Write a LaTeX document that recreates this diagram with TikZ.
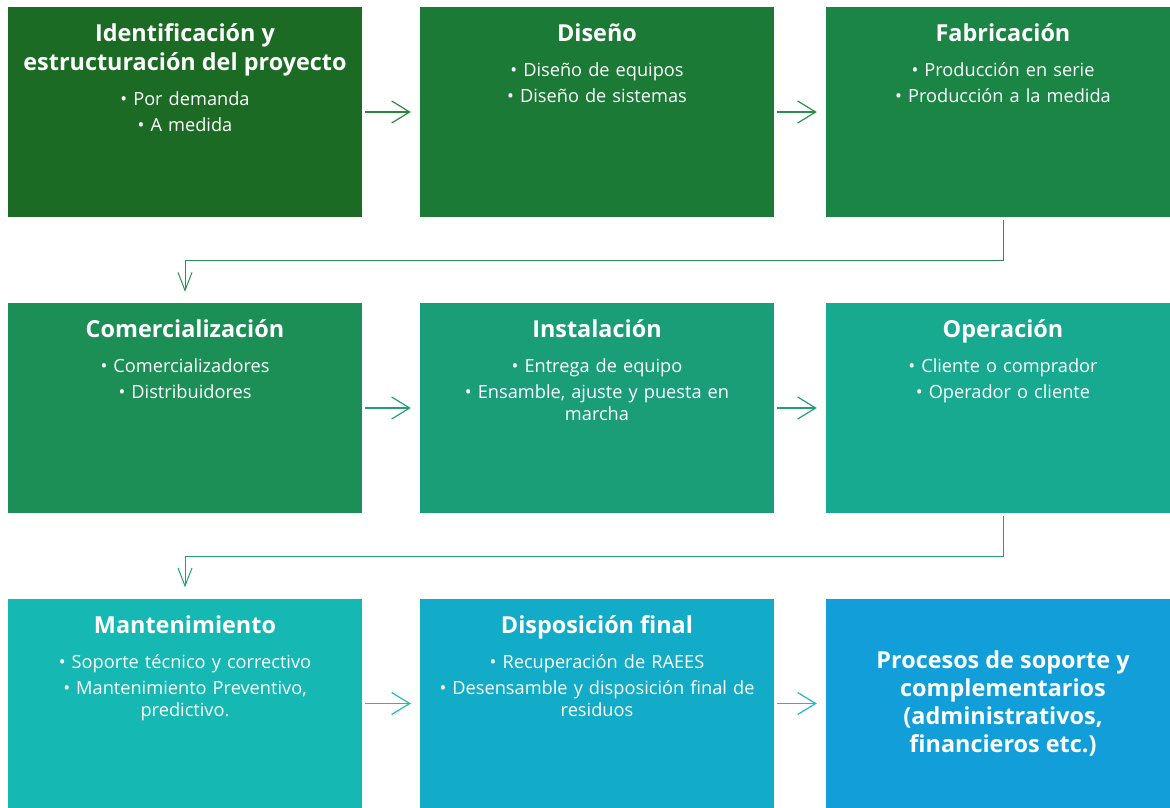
\documentclass[tikz,border=0pt]{standalone}
\usepackage{fontspec}
\setmainfont{Open Sans}
\usetikzlibrary{arrows.meta,positioning}
\definecolor{boxA}{RGB}{27,107,36}
\definecolor{boxB}{RGB}{27,122,54}
\definecolor{boxC}{RGB}{27,133,69}
\definecolor{boxD}{RGB}{28,143,87}
\definecolor{boxE}{RGB}{26,158,119}
\definecolor{boxF}{RGB}{23,170,145}
\definecolor{boxG}{RGB}{22,184,180}
\definecolor{boxH}{RGB}{19,172,200}
\definecolor{boxI}{RGB}{18,158,216}
\definecolor{arrA}{RGB}{40,135,60}
\definecolor{arrB}{RGB}{40,145,80}
\definecolor{arrC}{RGB}{35,160,115}
\definecolor{arrD}{RGB}{40,180,200}
\tikzset{
  stage/.style={rectangle, inner sep=0pt, minimum width=354pt, minimum height=210pt},
  stagetext/.style={anchor=north, align=center, text width=350pt, inner sep=0pt, text=white,
    font=\fontsize{18.2}{22}\selectfont},
  flow/.style={-{Straight Barb[length=18pt,width=22pt]}, line width=1.2pt, shorten <=3pt, shorten >=9pt},
  turn/.style={-{Straight Barb[length=18pt,width=14pt]}, line width=1pt, shorten <=3pt, shorten >=11pt}
}
\newcommand{\stagetitle}[1]{{\fontsize{23.4}{29}\selectfont\bfseries #1\par}\vspace{13pt}}

\begin{document}
\begin{tikzpicture}[x=1pt,y=1pt]
  \useasboundingbox (0,0) rectangle (1170,-808);
  % first row
  \node[stage, fill=boxA] (ident) at (185,-112) {};
  \node[stagetext, below=17pt of ident.north] {\stagetitle{Identificación y\\estructuración del proyecto}%
    • Por demanda\\[4pt] • A medida};
  \node[stage, fill=boxB] (dis) at (597,-112) {};
  \node[stagetext, below=17pt of dis.north] {\stagetitle{Diseño}%
    • Diseño de equipos\\[4pt] • Diseño de sistemas};
  \node[stage, fill=boxC] (fab) at (1003,-112) {};
  \node[stagetext, below=17pt of fab.north] {\stagetitle{Fabricación}%
    • Producción en serie\\[4pt] • Producción a la medida};
  % second row
  \node[stage, fill=boxD] (com) at (185,-408) {};
  \node[stagetext, below=17pt of com.north] {\stagetitle{Comercialización}%
    • Comercializadores\\[4pt] • Distribuidores};
  \node[stage, fill=boxE] (inst) at (597,-408) {};
  \node[stagetext, below=17pt of inst.north] {\stagetitle{Instalación}%
    • Entrega de equipo\\[4pt] • Ensamble, ajuste y puesta en\\ marcha};
  \node[stage, fill=boxF] (oper) at (1003,-408) {};
  \node[stagetext, below=17pt of oper.north] {\stagetitle{Operación}%
    • Cliente o comprador\\[4pt] • Operador o cliente};
  % third row
  \node[stage, fill=boxG] (mant) at (185,-703.5) {};
  \node[stagetext, below=17pt of mant.north] {\stagetitle{Mantenimiento}%
    • Soporte técnico y correctivo\\[4pt] • Mantenimiento Preventivo,\\ predictivo.};
  \node[stage, fill=boxH] (disp) at (597,-703.5) {};
  \node[stagetext, below=17pt of disp.north] {\stagetitle{Disposición final}%
    • Recuperación de RAEES\\[4pt] • Desensamble y disposición final de\\ residuos};
  \node[stage, fill=boxI] (sop) at (1003,-703.5) {};
  \node[text=white, align=center, font=\fontsize{23.4}{28}\selectfont\bfseries] at (sop) {Procesos de soporte y\\complementarios\\(administrativos,\\financieros etc.)};
  % connectors
  \draw[flow, arrA] (ident.east) -- (dis.west);
  \draw[flow, arrB] (dis.east) -- (fab.west);
  \draw[turn, arrB] (fab.south) -- ++(0,-43) -| (com.north);
  \draw[flow, arrC] (com.east) -- (inst.west);
  \draw[flow, arrC] (inst.east) -- (oper.west);
  \draw[turn, arrC] (oper.south) -- ++(0,-43) -| (mant.north);
  \draw[flow, arrD] (mant.east) -- (disp.west);
  \draw[flow, arrD] (disp.east) -- (sop.west);
\end{tikzpicture}
\end{document}
